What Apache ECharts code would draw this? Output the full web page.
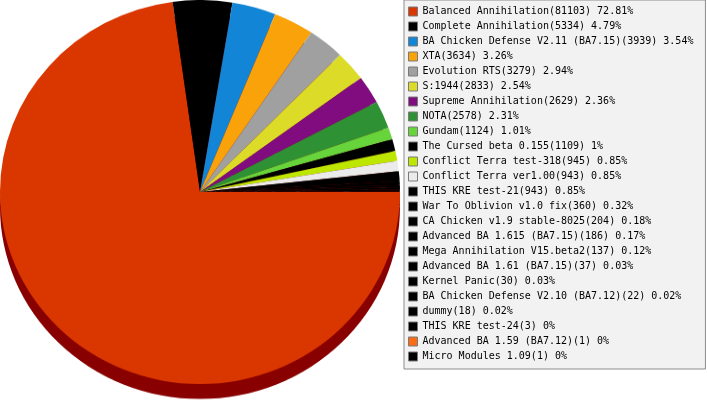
<!DOCTYPE html>
<html>
<head>
<meta charset="utf-8">
<script src="https://cdn.jsdelivr.net/npm/echarts@6/dist/echarts.min.js"></script>
<style>
html,body{margin:0;padding:0;background:#fff;overflow:hidden;}
#wrap{position:relative;width:707px;height:400px;overflow:hidden;background:#fff;}
#pie{position:absolute;left:0;top:0;width:402px;height:420px;transform:scaleY(0.96);transform-origin:0 0;}
#c{position:absolute;left:0;top:0;width:707px;height:400px;}
</style>
</head>
<body>
<div id="wrap">
<div id="pie"></div>
<div id="c"></div>
</div>
<script>
const names = [
  "Balanced Annihilation",
  "Complete Annihilation",
  "BA Chicken Defense V2.11 (BA7.15)",
  "XTA",
  "Evolution RTS",
  "S:1944",
  "Supreme Annihilation",
  "NOTA",
  "Gundam",
  "The Cursed beta 0.155",
  "Conflict Terra test-318",
  "Conflict Terra ver1.00",
  "THIS KRE test-21",
  "War To Oblivion v1.0 fix",
  "CA Chicken v1.9 stable-8025",
  "Advanced BA 1.615 (BA7.15)",
  "Mega Annihilation V15.beta2",
  "Advanced BA 1.61 (BA7.15)",
  "Kernel Panic",
  "BA Chicken Defense V2.10 (BA7.12)",
  "dummy",
  "THIS KRE test-24",
  "Advanced BA 1.59 (BA7.12)",
  "Micro Modules 1.09"
];
const values = [81103, 5334, 3939, 3634, 3279, 2833, 2629, 2578, 1124, 1109, 945, 943, 943, 360, 204, 186, 137, 37, 30, 22, 18, 3, 1, 1];
const colors = [
  "#da3600", "#000000", "#1385d6", "#f9a20a", "#a0a0a0", "#dcdc28",
  "#800c80", "#2e9234", "#66d43a", "#000000", "#bde600", "#ebebeb",
  "#000000", "#000000", "#000000", "#000000", "#000000", "#000000",
  "#000000", "#000000", "#000000", "#000000", "#fa6b14", "#000000"
];

const total = values.reduce((a, b) => a + b, 0);
const lookup = {};
names.forEach((n, i) => { lookup[n] = values[i]; });
const sliceData = names.map((n, i) => ({name: n, value: values[i], itemStyle: {color: colors[i]}}));

// Pie (drawn slightly flattened to give the tilted 3D look)
const pieChart = echarts.init(document.getElementById('pie'), null, {renderer: 'canvas'});
pieChart.setOption({
  animation: false,
  series: [
    {
      type: 'pie',
      name: 'top',
      z: 3,
      center: [200, 200],
      radius: 200,
      startAngle: 0,
      clockwise: true,
      label: {show: false},
      labelLine: {show: false},
      emphasis: {disabled: true},
      silent: true,
      avoidLabelOverlap: false,
      itemStyle: {borderWidth: 0},
      data: sliceData
    },
    {
      type: 'pie',
      name: 'side',
      z: 1,
      center: [200, 215.6],
      radius: 200,
      startAngle: 0,
      clockwise: true,
      label: {show: false},
      labelLine: {show: false},
      emphasis: {disabled: true},
      silent: true,
      itemStyle: {borderWidth: 0, color: '#880000'},
      data: values.map(v => ({value: v}))
    }
  ]
});

// Legend
const chart = echarts.init(document.getElementById('c'), null, {renderer: 'canvas'});
chart.setOption({
  animation: false,
  legend: {
    orient: 'vertical',
    left: 404,
    top: 0,
    padding: [4, 12, 5, 4],
    itemGap: 0,
    itemWidth: 9,
    itemHeight: 9,
    icon: 'rect',
    backgroundColor: '#f2f2f2',
    borderColor: '#8c8c8c',
    borderWidth: 1,
    borderRadius: 0,
    selectedMode: false,
    itemStyle: {borderColor: '#7a7a7a', borderWidth: 1},
    textStyle: {
      fontFamily: 'DejaVu Sans Mono',
      fontSize: 10,
      color: '#000',
      lineHeight: 15
    },
    data: names,
    formatter: function (n) {
      const v = lookup[n];
      const p = parseFloat((v / total * 100).toFixed(2));
      return n + '(' + v + ') ' + p + '%';
    }
  },
  series: [
    {
      type: 'pie',
      name: 'legendSource',
      center: [200, 192],
      radius: [0, 0],
      silent: true,
      label: {show: false},
      labelLine: {show: false},
      emphasis: {disabled: true},
      itemStyle: {borderWidth: 0},
      data: sliceData
    }
  ]
});
</script>
</body>
</html>
